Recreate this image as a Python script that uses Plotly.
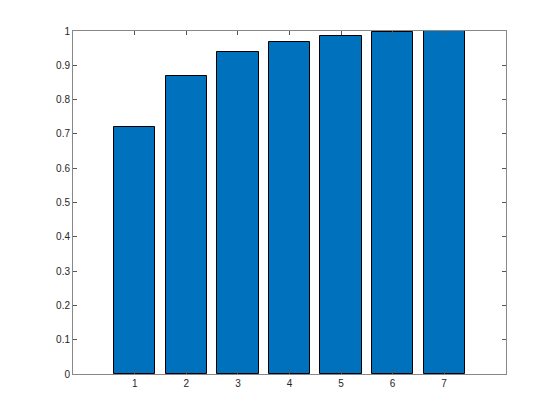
import plotly.graph_objects as go

categories = [1, 2, 3, 4, 5, 6, 7]
values = [0.72, 0.868, 0.94, 0.968, 0.985, 0.996, 1.0]
y_ticks = [0, 0.1, 0.2, 0.3, 0.4, 0.5, 0.6, 0.7, 0.8, 0.9, 1]
y_tick_labels = ["0", "0.1", "0.2", "0.3", "0.4", "0.5", "0.6", "0.7", "0.8", "0.9", "1"]

fig = go.Figure(go.Bar(
    x=categories, y=values, width=0.8,
    marker=dict(color="#0072BD", line=dict(color="#000000", width=1)),
))

axis_common = dict(
    showgrid=False, zeroline=False, showline=True, linecolor="#888888", linewidth=1,
    mirror="ticks", ticks="inside", ticklen=4, tickcolor="#555555", tickwidth=1,
    tickfont=dict(family="Liberation Sans, Arial, sans-serif", size=10, color="#262626"),
)

fig.update_layout(
    width=552, height=412,
    margin=dict(l=65, r=54, t=23, b=46),
    paper_bgcolor="white", plot_bgcolor="white",
    showlegend=False, bargap=0,
    xaxis=dict(range=[-0.2, 8.2], tickvals=categories, ticktext=[str(c) for c in categories], **axis_common),
    yaxis=dict(range=[0, 1], tickvals=y_ticks, ticktext=y_tick_labels, **axis_common),
)

fig.write_html("out.html")
